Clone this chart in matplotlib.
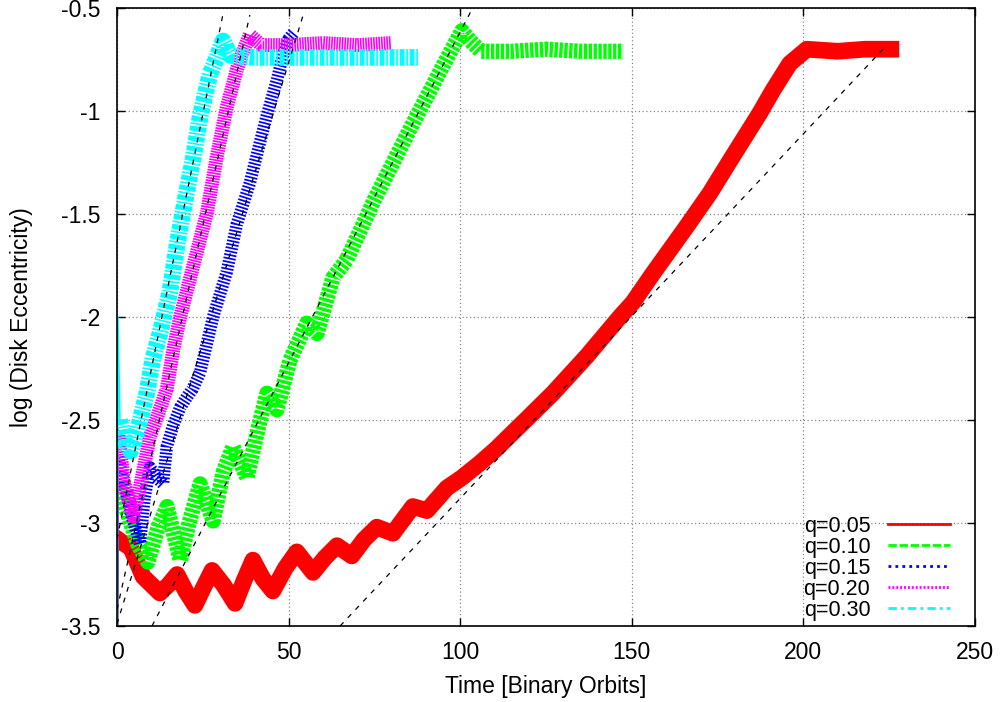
import matplotlib
matplotlib.use("Agg")
import matplotlib.pyplot as plt
from matplotlib.lines import Line2D
from matplotlib.ticker import FuncFormatter

plt.rcParams['font.family'] = ['Liberation Sans', 'DejaVu Sans']
plt.rcParams['axes.unicode_minus'] = False

# Data: time [binary orbits], log10(disk eccentricity)
t_q05 = [0, 0.3, 2, 4, 7.6, 12.5, 15, 17.5, 20, 22.7, 25, 27.7, 31, 34.4, 37, 39.6, 42.5, 45.4,
         49, 52.4, 57.1, 60.5, 64.1, 68.4, 72, 75.7, 80.4, 86.2, 90.3, 96.1, 100.5, 105.7,
         110.5, 115.4, 119.7, 127, 136.9, 146.5, 150.3, 156.1, 166, 172.7, 179.4, 187.3,
         191.1, 196, 201, 210, 218, 225.5]
e_q05 = [-3.6, -3.08, -3.1, -3.12, -3.26, -3.34, -3.30, -3.25, -3.33, -3.40, -3.32, -3.23, -3.30,
         -3.39, -3.28, -3.18, -3.27, -3.33, -3.22, -3.14, -3.24, -3.17, -3.11, -3.16, -3.08,
         -3.02, -3.05, -2.92, -2.94, -2.83, -2.78, -2.71, -2.64, -2.56, -2.49, -2.37, -2.19,
         -2.0, -1.93, -1.79, -1.56, -1.40, -1.22, -1.01, -0.90, -0.77, -0.70, -0.71, -0.70, -0.70]

t_q10 = [0, 0.3, 3, 6, 9, 12, 14.6, 16.5, 18.4, 21, 24.2, 28, 31, 33.8, 37.9, 41, 43.7, 46.6,
         50.4, 55.3, 58.3, 62.9, 67, 75, 85, 95, 100.5, 103, 106, 115, 125, 135, 147.5]
e_q10 = [-3.6, -2.8, -2.95, -3.1, -3.19, -3.02, -2.92, -3.05, -3.18, -3.0, -2.81, -2.99, -2.75,
         -2.63, -2.78, -2.55, -2.37, -2.45, -2.21, -2.03, -2.08, -1.81, -1.72, -1.43, -1.10,
         -0.78, -0.61, -0.66, -0.71, -0.71, -0.70, -0.71, -0.71]

t_q15 = [0, 0.3, 2, 4, 6.7, 8, 9.6, 11.5, 13.4, 14.5, 16.5, 18.4, 20.3, 22, 24.2, 28, 32, 34.9,
         38.7, 41.7, 43.7, 46.6, 48.5, 50, 51.5]
e_q15 = [-3.6, -2.68, -2.8, -2.95, -3.1, -2.88, -2.73, -2.78, -2.81, -2.63, -2.52, -2.44, -2.39,
         -2.35, -2.27, -2.0, -1.78, -1.55, -1.35, -1.15, -1.02, -0.85, -0.72, -0.65, -0.62]

t_q20 = [0, 0.3, 2, 4.8, 7, 9.6, 12, 14.5, 16.5, 18.4, 22.1, 26.2, 29.1, 32, 34.9, 36.5, 38.7,
         42, 50, 60, 70, 80]
e_q20 = [-3.6, -2.55, -2.8, -2.97, -2.8, -2.58, -2.47, -2.35, -2.15, -2.0, -1.76, -1.495, -1.22,
         -0.98, -0.80, -0.72, -0.63, -0.68, -0.68, -0.67, -0.68, -0.67]

t_q30 = [0, 0.2, 0.8, 2, 4, 6, 8.7, 10.5, 12.5, 15.4, 17.5, 20, 22.1, 24.2, 27.1, 29.1, 30.9,
         33, 40, 50, 60, 70, 80, 88]
e_q30 = [-3.6, -2.0, -2.5, -2.6, -2.65, -2.55, -2.37, -2.2, -2.08, -1.88, -1.65, -1.42, -1.24,
         -1.03, -0.82, -0.74, -0.66, -0.73, -0.74, -0.74, -0.74, -0.74, -0.74, -0.74]

# exponential growth fits (straight in log space): (t0, e0, t1, e1)
fits = [(65, -3.5, 224.5, -0.677),
        (10.2, -3.5, 103, -0.52),
        (0, -3.49, 54.5, -0.52),
        (0, -3.42, 38.7, -0.534),
        (0, -3.08, 31, -0.52)]

labels = ["q=0.05", "q=0.10", "q=0.15", "q=0.20", "q=0.30"]
colors = ["#ff0000", "#00ff00", "#0000ff", "#ff00ff", "#00ffff"]

FS = 16.5

fig = plt.figure(figsize=(10.02, 7.02), dpi=100)
ax = fig.add_axes([117/1002, 76/702, 858/1002, 618/702])

# noisy bands drawn as thick strokes; the initial transient along t=0 is thin
series = [(t_q05, e_q05), (t_q10, e_q10), (t_q15, e_q15), (t_q20, e_q20), (t_q30, e_q30)]
band_ls = ["-", (0, (0.22, 0.1)), (0, (0.14, 0.14)), (0, (0.12, 0.07)), (0, (0.3, 0.1, 0.1, 0.1))]
band_lw = [12, 11, 9, 10, 12]
n_thin = [2, 2, 2, 2, 3]
for (t, e), c, ls, lw, n in zip(series, colors, band_ls, band_lw, n_thin):
    ax.plot(t[:n], e[:n], color=c, lw=1.5)
    ax.plot(t[n - 1:], e[n - 1:], color=c, lw=lw, ls=ls,
            solid_joinstyle="round", dash_capstyle="butt")

for t0, e0, t1, e1 in fits:
    ax.plot([t0, t1], [e0, e1], color="k", lw=0.9, ls=(0, (4, 5)), zorder=5)

ax.set_xlim(0, 250)
ax.set_ylim(-3.5, -0.5)
ax.set_xticks(range(0, 251, 50))
ax.set_yticks([-3.5, -3, -2.5, -2, -1.5, -1, -0.5])
ax.yaxis.set_major_formatter(FuncFormatter(lambda v, p: "%g" % v))
ax.tick_params(direction="in", length=6, width=1, top=True, right=True, labelsize=FS)
ax.tick_params(axis="x", pad=11)
ax.tick_params(axis="y", pad=12)
ax.grid(True, color="#888888", ls=(0, (1, 2)), lw=0.9)
for s in ax.spines.values():
    s.set_linewidth(1.2)

ax.set_xlabel("Time [Binary Orbits]", fontsize=FS, labelpad=8)
ax.set_ylabel("log (Disk Eccentricity)", fontsize=FS, labelpad=20)

leg_ls = ["-", (0, (3, 1)), (0, (1, 1.5)), (0, (0.7, 0.7)), (0, (3, 1.5, 1, 1.5))]
handles = [Line2D([], [], color=c, lw=2, ls=ls) for c, ls in zip(colors, leg_ls)]
ax.legend(handles, labels, loc="lower right", frameon=False, markerfirst=False,
          fontsize=15.5, handlelength=2.9, handletextpad=0.8, labelspacing=0.0,
          borderpad=0, borderaxespad=0,
          bbox_to_anchor=((950 - 117) / 858, (626 - 621) / 618))

fig.savefig("out.png", dpi=100)
